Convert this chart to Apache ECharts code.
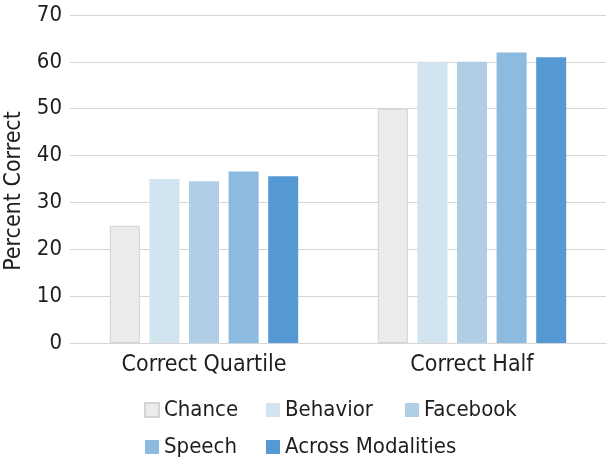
<!DOCTYPE html>
<html>
<head>
<meta charset="utf-8">
<script src="https://cdn.jsdelivr.net/npm/echarts@6/dist/echarts.min.js"></script>
<style>html,body{margin:0;padding:0;background:#fff}#c{width:610px;height:464px}</style>
</head>
<body>
<div id="c"></div>
<script>
const categories = ['Correct Quartile', 'Correct Half'];
const seriesNames = ['Chance', 'Behavior', 'Facebook', 'Speech', 'Across Modalities'];
const chance = [25, 50];
const behavior = [35, 60];
const facebook = [34.5, 60];
const speech = [36.6, 62];
const acrossModalities = [35.6, 61];
const yTicks = [0, 10, 20, 30, 40, 50, 60, 70];

const values = [chance, behavior, facebook, speech, acrossModalities];
const colors = ['#EBEBEA', '#D3E4F1', '#B0CFE7', '#8DBBE0', '#5599D4'];
const FONT = "'Liberation Sans Narrow', 'DejaVu Sans Condensed', 'Roboto', sans-serif";
const TXT = '#1e1e1e';

const chart = echarts.init(document.getElementById('c'));
const series = seriesNames.map((n, i) => ({
  name: n,
  type: 'bar',
  data: values[i],
  barWidth: 30,
  barGap: '32%',
  itemStyle: i === 0 ? {color: colors[i], borderColor: '#d3d3d3', borderWidth: 1} : {color: colors[i]}
}));

const legendBase = {
  orient: 'vertical',
  itemWidth: 14,
  itemHeight: 14,
  itemGap: 15,
  icon: 'rect',
  textStyle: {fontFamily: FONT, fontSize: 22, color: TXT},
  selectedMode: false,
  padding: 0
};

chart.setOption({
  animation: false,
  textStyle: {fontFamily: FONT},
  grid: {left: 70, right: 4, top: 15, bottom: 121, containLabel: false, outerBoundsMode: 'none'},
  legend: [
    Object.assign({}, legendBase, {data: ['Chance', 'Speech'], left: 144, top: 399}),
    Object.assign({}, legendBase, {data: ['Behavior', 'Across Modalities'], left: 266, top: 399}),
    Object.assign({}, legendBase, {data: ['Facebook'], left: 405, top: 399})
  ],
  xAxis: {
    type: 'category',
    data: categories,
    axisLine: {lineStyle: {color: '#d6d6d6', width: 1}},
    axisTick: {show: false},
    axisLabel: {fontFamily: FONT, fontSize: 23, color: TXT, margin: 11}
  },
  yAxis: {
    type: 'value',
    min: 0,
    max: yTicks[yTicks.length - 1],
    interval: yTicks[1] - yTicks[0],
    name: 'Percent Correct',
    nameLocation: 'middle',
    nameGap: 42,
    nameTextStyle: {fontFamily: FONT, fontSize: 23, color: TXT, padding: [0, 24, 0, 0]},
    axisLine: {show: false},
    axisTick: {show: false},
    splitLine: {lineStyle: {color: '#d6d6d6', width: 1}},
    axisLabel: {fontFamily: FONT, fontSize: 22, color: TXT, margin: 8}
  },
  series: series
});
</script>
</body>
</html>
